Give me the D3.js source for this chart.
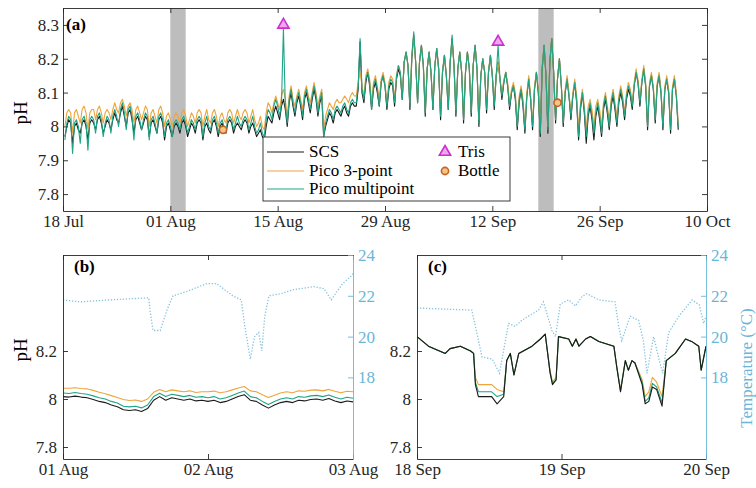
<!DOCTYPE html>
<html>
<head>
<meta charset="utf-8">
<script src="https://cdn.jsdelivr.net/npm/d3@7"></script>
<style>
  body { margin: 0; background: #fff; }
  svg { display: block; }
  text { font-family: "Liberation Serif", "Times New Roman", serif; }
</style>
</head>
<body>
<svg id="chart" width="756" height="488"></svg>
<script>
// ---------- Panel (a): full deployment, 6-hourly samples from 18 Jul 06:00 ----------
const seriesStartA = new Date(2019, 6, 18, 6);
const phSCS = [
  7.97,8.00,8.02,8.01, 7.95,8.00,8.01,7.99, 7.98,8.01,8.02,8.00, 7.96,8.01,8.02,8.01, 7.99,8.02,8.03,8.01, 7.98,8.00,8.02,8.01, 7.99,8.02,8.04,8.02,
  8.01,8.04,8.06,8.03, 8.00,8.04,8.05,8.02, 7.98,8.02,8.03,8.01, 7.99,8.01,8.03,8.02, 7.97,8.01,8.02,8.00, 7.98,8.02,8.03,8.01, 7.96,8.00,8.01,7.99,
  7.97,8.00,8.01,8.00, 7.98,8.01,8.02,8.00, 7.97,7.99,8.01,8.00, 7.98,8.01,8.02,8.01, 7.96,8.00,8.01,7.99, 7.98,8.01,8.02,8.00, 7.97,8.00,8.01,7.99,
  7.98,8.01,8.02,8.01, 7.98,8.00,8.01,8.00, 7.99,8.01,8.02,8.01, 7.98,8.00,8.01,7.99, 7.97,7.98,7.99,7.97, 7.96,8.00,8.03,8.02, 8.01,8.04,8.06,8.04,
  8.02,8.06,8.08,8.05, 8.00,8.07,8.10,8.06, 8.03,8.07,8.09,8.06, 8.02,8.08,8.10,8.07, 8.04,8.08,8.11,8.08, 8.03,8.07,8.09,7.97, 8.00,8.02,8.04,8.03,
  8.01,8.04,8.05,8.04, 8.03,8.05,8.06,8.04, 8.03,8.06,8.07,8.06, 8.06,8.11,8.25,8.10, 8.07,8.13,8.16,8.12, 8.05,8.11,8.13,8.10, 8.06,8.13,8.15,8.12,
  8.05,8.11,8.13,8.12, 8.06,8.14,8.17,8.15, 8.08,8.19,8.22,8.18, 8.05,8.20,8.27,8.19, 8.07,8.19,8.24,8.18, 8.03,8.17,8.22,8.16, 8.05,8.18,8.23,8.17,
  8.02,8.16,8.21,8.15, 8.05,8.19,8.26,8.18, 8.03,8.17,8.22,8.16, 8.01,8.16,8.22,8.17, 8.03,8.18,8.24,8.17, 8.00,8.15,8.20,8.16, 8.04,8.16,8.21,8.15,
  8.05,8.15,8.19,8.14, 8.08,8.13,8.16,8.12, 8.05,8.10,8.12,8.08, 7.99,8.07,8.11,8.06, 7.98,8.09,8.14,8.08, 7.99,8.11,8.16,8.10, 7.97,8.17,8.24,8.15,
  7.98,8.19,8.26,8.16, 8.01,8.14,8.20,8.12, 8.00,8.10,8.14,8.09, 8.02,8.09,8.13,8.07, 7.96,8.05,8.10,8.04, 7.95,8.03,8.06,8.02, 7.96,8.03,8.06,8.02,
  7.97,8.05,8.08,8.04, 7.99,8.06,8.09,8.05, 8.00,8.07,8.10,8.07, 8.02,8.08,8.11,8.09, 8.05,8.12,8.16,8.13, 8.06,8.13,8.17,8.12, 7.99,8.12,8.15,8.11,
  8.01,8.12,8.15,8.10, 7.99,8.11,8.14,8.10, 7.98,8.11,8.14,8.09, 7.99
];
const phPico3 = [
  8.00,8.04,8.05,8.04, 7.98,8.04,8.05,8.03, 8.01,8.05,8.06,8.04, 7.99,8.04,8.05,8.05, 8.02,8.05,8.06,8.04, 8.01,8.04,8.05,8.04, 8.02,8.05,8.07,8.05,
  8.04,8.07,8.08,8.06, 8.03,8.06,8.07,8.05, 8.01,8.05,8.06,8.04, 8.02,8.04,8.06,8.05, 8.00,8.04,8.05,8.03, 8.01,8.05,8.06,8.04, 8.00,8.03,8.04,8.02,
  8.00,8.03,8.04,8.03, 8.01,8.04,8.05,8.03, 8.00,8.02,8.04,8.03, 8.01,8.04,8.05,8.04, 8.00,8.03,8.05,8.02, 8.01,8.04,8.05,8.03, 8.00,8.03,8.04,8.02,
  8.01,8.04,8.05,8.04, 8.01,8.03,8.05,8.03, 8.02,8.04,8.05,8.04, 8.01,8.03,8.05,8.02, 8.00,8.01,8.03,8.00, 7.99,8.04,8.07,8.06, 8.04,8.07,8.09,8.07,
  8.05,8.09,8.11,8.08, 8.03,8.09,8.12,8.08, 8.06,8.09,8.11,8.08, 8.05,8.10,8.12,8.09, 8.07,8.10,8.13,8.10, 8.06,8.09,8.11,7.99, 8.03,8.05,8.07,8.06,
  8.05,8.07,8.08,8.07, 8.07,8.08,8.09,8.08, 8.07,8.09,8.10,8.09, 8.09,8.13,8.16,8.12, 8.09,8.15,8.17,8.14, 8.07,8.13,8.15,8.12, 8.08,8.14,8.16,8.13,
  8.07,8.13,8.15,8.14, 8.08,8.15,8.18,8.16, 8.09,8.19,8.22,8.18, 8.07,8.21,8.27,8.19, 8.08,8.19,8.24,8.18, 8.05,8.17,8.22,8.16, 8.06,8.18,8.23,8.17,
  8.04,8.16,8.21,8.15, 8.06,8.19,8.26,8.18, 8.05,8.17,8.22,8.16, 8.03,8.16,8.22,8.17, 8.05,8.18,8.24,8.17, 8.02,8.15,8.20,8.16, 8.06,8.16,8.21,8.15,
  8.07,8.15,8.19,8.14, 8.10,8.14,8.16,8.13, 8.07,8.11,8.13,8.10, 8.01,8.09,8.12,8.08, 8.00,8.10,8.15,8.09, 8.01,8.12,8.16,8.11, 7.99,8.17,8.24,8.15,
  8.00,8.19,8.26,8.16, 8.03,8.14,8.20,8.12, 8.02,8.11,8.15,8.10, 8.04,8.10,8.14,8.09, 7.99,8.07,8.11,8.06, 7.99,8.06,8.08,8.05, 8.00,8.06,8.08,8.05,
  8.00,8.07,8.10,8.06, 8.02,8.08,8.11,8.07, 8.03,8.09,8.12,8.09, 8.04,8.10,8.13,8.11, 8.07,8.13,8.17,8.14, 8.08,8.14,8.18,8.13, 8.01,8.13,8.16,8.12,
  8.03,8.13,8.16,8.11, 8.01,8.12,8.15,8.11, 8.00,8.12,8.15,8.10, 8.01
];
const phPicoMulti = [
  7.96,8.01,8.03,8.02, 7.92,8.01,8.02,8.00, 7.95,8.02,8.03,8.01, 7.93,8.02,8.03,8.02, 7.98,8.03,8.04,8.02, 7.97,8.01,8.03,8.02, 7.98,8.03,8.05,8.03,
  8.00,8.05,8.07,8.04, 7.99,8.05,8.06,8.03, 7.96,8.03,8.04,8.02, 7.99,8.02,8.04,8.03, 7.96,8.02,8.03,8.01, 7.98,8.03,8.04,8.02, 7.97,8.01,8.02,8.00,
  7.97,8.01,8.02,8.01, 7.99,8.02,8.03,8.01, 7.98,8.00,8.02,8.01, 7.99,8.02,8.03,8.02, 7.97,8.01,8.03,8.00, 7.99,8.02,8.03,8.01, 7.98,8.01,8.02,8.00,
  7.99,8.02,8.03,8.02, 7.99,8.01,8.03,8.01, 8.00,8.02,8.03,8.02, 7.99,8.01,8.03,8.00, 7.98,7.99,8.01,7.98, 7.97,8.02,8.05,8.04, 8.02,8.06,8.08,8.06,
  8.03,8.07,8.29,8.06, 8.01,8.08,8.11,8.07, 8.04,8.08,8.10,8.07, 8.03,8.09,8.11,8.08, 8.05,8.09,8.12,8.09, 8.04,8.08,8.10,7.97, 8.01,8.03,8.05,8.04,
  8.02,8.05,8.06,8.05, 8.04,8.06,8.07,8.05, 8.04,8.07,8.08,8.07, 8.07,8.12,8.26,8.11, 8.08,8.14,8.16,8.13, 8.05,8.12,8.14,8.11, 8.06,8.13,8.15,8.12,
  8.06,8.12,8.14,8.13, 8.07,8.15,8.18,8.16, 8.08,8.19,8.22,8.18, 8.06,8.21,8.28,8.19, 8.07,8.19,8.24,8.18, 8.04,8.17,8.22,8.16, 8.05,8.18,8.23,8.17,
  8.03,8.16,8.21,8.15, 8.05,8.19,8.27,8.18, 8.04,8.17,8.22,8.16, 8.02,8.16,8.22,8.17, 8.04,8.18,8.24,8.17, 8.01,8.15,8.20,8.16, 8.05,8.16,8.21,8.15,
  8.06,8.15,8.24,8.14, 8.09,8.13,8.16,8.12, 8.06,8.10,8.12,8.09, 8.00,8.08,8.11,8.07, 7.99,8.09,8.14,8.08, 8.00,8.11,8.16,8.10, 7.98,8.17,8.24,8.15,
  7.99,8.19,8.26,8.16, 8.02,8.14,8.20,8.12, 8.01,8.10,8.14,8.09, 8.03,8.09,8.13,8.08, 7.97,8.06,8.10,8.05, 7.97,8.04,8.07,8.03, 7.98,8.04,8.07,8.03,
  7.98,8.06,8.09,8.05, 8.00,8.07,8.10,8.06, 8.01,8.08,8.11,8.08, 8.03,8.09,8.12,8.10, 8.06,8.12,8.16,8.13, 8.07,8.13,8.17,8.12, 8.00,8.12,8.15,8.11,
  8.02,8.12,8.15,8.10, 8.00,8.11,8.14,8.10, 7.99,8.11,8.14,8.09, 8.00
];
const trisDates = [new Date(2019, 7, 15, 18), new Date(2019, 8, 12, 18)];
const trisPH = [8.30, 8.25];
const bottleDates = [new Date(2019, 7, 7, 21), new Date(2019, 8, 20, 12)];
const bottlePH = [7.99, 8.07];
const shadedPeriods = [[new Date(2019, 7, 1), new Date(2019, 7, 3)], [new Date(2019, 8, 18), new Date(2019, 8, 20)]];
const dateTicksA = [new Date(2019,6,18), new Date(2019,7,1), new Date(2019,7,15), new Date(2019,7,29),
                    new Date(2019,8,12), new Date(2019,8,26), new Date(2019,9,10)];
const phTicksA = [7.8, 7.9, 8, 8.1, 8.2, 8.3];

// ---------- Panel (b): 01–03 Aug, hourly pH, temperature at irregular hours ----------
const hoursB = d3.range(0, 49, 1);
const phSCS_B   = [8.010,8.008,8.012,8.008,8.005,7.998,7.990,7.985,7.975,7.968,7.955,7.952,7.955,7.948,7.960,7.995,8.010,
                   7.995,8.005,8.000,7.995,8.000,7.992,7.995,7.990,7.995,7.985,7.990,8.000,8.010,8.018,7.995,7.990,
                   7.975,7.962,7.975,7.985,7.990,7.985,7.995,7.992,7.998,8.000,7.995,8.002,7.992,7.985,7.992,7.988];
const phPico3_B = [8.045,8.045,8.047,8.044,8.042,8.036,8.028,8.022,8.014,8.006,7.998,7.994,7.996,7.990,8.000,8.028,8.040,
                   8.030,8.038,8.034,8.030,8.034,8.027,8.030,8.030,8.033,8.026,8.030,8.038,8.046,8.052,8.034,8.030,
                   8.018,8.006,8.016,8.025,8.030,8.026,8.034,8.032,8.037,8.038,8.034,8.040,8.032,8.026,8.032,8.030];
const phMulti_B = [8.025,8.023,8.027,8.023,8.020,8.013,8.005,8.000,7.990,7.983,7.970,7.967,7.970,7.963,7.975,8.010,8.024,
                   8.010,8.020,8.015,8.010,8.015,8.007,8.010,8.005,8.010,8.000,8.005,8.015,8.025,8.033,8.010,8.005,
                   7.990,7.977,7.990,8.000,8.005,8.000,8.010,8.007,8.013,8.015,8.010,8.017,8.007,8.000,8.007,8.003];
const tempHoursB = [0,2.8,7.7,14.2,14.4,14.9,16.1,17.2,18.2,20.4,23.8,25.4,28.1,29.5,30.1,31.0,31.7,
                    32.4,32.9,33.4,34.1,36.0,38.2,41.5,43.2,44.4,45.1,46.3,47.8,48];
const tempB = [21.8,21.7,21.8,21.9,21.3,20.3,20.3,21.3,22.0,22.2,22.6,22.6,22.0,21.8,20.5,18.9,20.0,
               20.2,19.3,21.0,22.0,22.1,22.3,22.45,22.35,21.8,22.1,22.6,23.0,23.1];

// ---------- Panel (c): 18–20 Sep ----------
const hoursC = [0,1.9,4.7,5.5,7.2,8.9,9.4,9.7,10.2,12.4,13.3,14.4,14.9,15.5,16.1,16.9,19.1,20.5,21.3,22.1,
                22.5,23.1,23.5,25.2,25.8,26.4,26.9,28.0,28.8,30.2,32.7,33.2,33.8,34.6,35.1,35.7,36.2,37.4,37.9,38.5,
                39.1,39.8,40.7,41.4,42.9,44.6,45.6,46.8,47.2,48];
const phSCS_C   = [8.26,8.22,8.19,8.21,8.22,8.20,8.19,8.06,8.01,8.01,7.98,8.01,8.16,8.19,8.10,8.19,8.22,8.25,8.27,8.11,
                   8.06,8.08,8.26,8.25,8.22,8.25,8.22,8.25,8.26,8.24,8.22,8.13,8.03,8.16,8.12,8.16,8.15,8.06,7.98,7.99,
                   8.05,8.04,7.97,8.16,8.19,8.25,8.24,8.22,8.12,8.22];
const phPico3_C = [8.26,8.22,8.19,8.21,8.22,8.20,8.19,8.09,8.06,8.06,8.04,8.03,8.16,8.19,8.10,8.19,8.22,8.25,8.27,8.12,
                   8.07,8.09,8.26,8.25,8.22,8.25,8.22,8.25,8.26,8.24,8.22,8.13,8.04,8.16,8.12,8.16,8.15,8.08,8.01,8.03,
                   8.09,8.07,8.01,8.16,8.19,8.25,8.24,8.22,8.12,8.22];
const phMulti_C = [8.26,8.22,8.19,8.21,8.22,8.20,8.19,8.07,8.03,8.03,8.01,8.02,8.16,8.19,8.10,8.19,8.22,8.25,8.27,8.11,
                   8.065,8.08,8.26,8.25,8.22,8.25,8.22,8.25,8.26,8.24,8.22,8.13,8.035,8.16,8.12,8.16,8.15,8.07,7.99,8.005,
                   8.065,8.05,7.985,8.16,8.19,8.25,8.24,8.22,8.12,8.22];
const tempHoursC = [0,9.1,9.7,10.8,12.5,13.7,14.1,15.2,16.3,17.4,20.2,21.0,22.4,23.0,23.8,25.2,26.3,27.4,28.2,30.2,
                    32.9,33.5,34.0,35.4,36.8,37.6,38.2,39.3,40.1,40.8,41.8,43.5,45.7,46.9,47.6,48];
const tempC = [21.4,21.3,20.5,19.0,18.9,18.2,18.85,20.65,20.5,20.8,21.3,21.7,20.3,20.0,21.6,21.8,21.5,21.96,22.1,21.8,
               21.7,20.5,19.8,21.0,20.8,19.8,18.2,20.0,19.0,18.2,20.2,21.0,21.8,21.55,20.65,21.0];

const phTicksBC = [7.8, 8, 8.2];
const tempTicks = [18, 20, 22, 24];

const SERIF = '"Liberation Serif", "Times New Roman", serif';
const FS = 17;
const COL = { scs: "#1b1b1b", pico3: "#efa43c", multi: "#1fa585", temp: "#86c3dc",
              tempAxis: "#6ab6d8", axis: "#262626", shade: "#bdbdbd", tris: "#cc2fcc", bottle: "#c8641e" };
const phFmt = d => (Math.abs(d - 8) < 1e-9 ? "8" : d3.format(".1f")(d));

const svg = d3.select("#chart");
svg.append("rect").attr("width", 756).attr("height", 488).attr("fill", "#fff");

function styleAxis(sel, color) {
  sel.attr("font-family", SERIF).attr("font-size", FS);
  sel.selectAll("path, line").attr("stroke", color).attr("stroke-width", 0.9);
  sel.selectAll("text").attr("fill", color).style("font-family", SERIF).style("font-size", FS + "px");
}
function label(parent, x, y, txt, extra = {}) {
  const t = parent.append("text").attr("x", x).attr("y", y)
    .style("font-family", SERIF).style("font-size", (extra.size || FS) + "px").text(txt);
  if (extra.bold) t.style("font-weight", "bold");
  if (extra.fill) t.attr("fill", extra.fill);
  if (extra.transform) t.attr("transform", extra.transform).attr("text-anchor", "middle");
  return t;
}

// ================= Panel (a) =================
{
  const L = 63, R = 707, T = 8, B = 211;
  const x = d3.scaleTime().domain([dateTicksA[0], dateTicksA[dateTicksA.length - 1]]).range([L, R]);
  const y = d3.scaleLinear().domain([7.75, 8.35]).range([B, T]);
  const times = phSCS.map((_, i) => d3.timeHour.offset(seriesStartA, 6 * i));

  svg.append("clipPath").attr("id", "clipA").append("rect")
    .attr("x", L).attr("y", T).attr("width", R - L).attr("height", B - T);
  const plot = svg.append("g").attr("clip-path", "url(#clipA)");

  plot.selectAll("rect.shade").data(shadedPeriods).join("rect")
    .attr("x", d => x(d[0])).attr("width", d => x(d[1]) - x(d[0]))
    .attr("y", T).attr("height", B - T).attr("fill", COL.shade);

  const line = d3.line().x((d, i) => x(times[i])).y(d => y(d));
  [[phSCS, COL.scs], [phPico3, COL.pico3], [phPicoMulti, COL.multi]].forEach(([s, c]) => {
    plot.append("path").datum(s).attr("d", line).attr("fill", "none")
      .attr("stroke", c).attr("stroke-width", 1.1).attr("stroke-linejoin", "round");
  });

  svg.selectAll("path.tris").data(trisDates).join("path")
    .attr("transform", (d, i) => `translate(${x(d)},${y(trisPH[i])})`)
    .attr("d", d3.symbol(d3.symbolTriangle).size(55))
    .attr("fill", "#eea6ee").attr("stroke", COL.tris).attr("stroke-width", 1.6);
  svg.selectAll("circle.bottle").data(bottleDates).join("circle")
    .attr("cx", d => x(d)).attr("cy", (d, i) => y(bottlePH[i])).attr("r", 3.6)
    .attr("fill", "#f3c48e").attr("stroke", COL.bottle).attr("stroke-width", 1.6);

  const fmt = d3.timeFormat("%d %b");
  svg.append("g").attr("transform", `translate(0,${B})`)
    .call(d3.axisBottom(x).tickValues(dateTicksA).tickFormat(fmt).tickSizeInner(-5).tickSizeOuter(0).tickPadding(4))
    .call(s => styleAxis(s, COL.axis));
  svg.append("g").attr("transform", `translate(0,${T})`)
    .call(d3.axisTop(x).tickValues(dateTicksA).tickFormat("").tickSizeInner(-5).tickSizeOuter(0))
    .call(s => styleAxis(s, COL.axis));
  svg.append("g").attr("transform", `translate(${L},0)`)
    .call(d3.axisLeft(y).tickValues(phTicksA).tickFormat(phFmt).tickSizeInner(-5).tickSizeOuter(0).tickPadding(4))
    .call(s => styleAxis(s, COL.axis));
  svg.append("g").attr("transform", `translate(${R},0)`)
    .call(d3.axisRight(y).tickValues(phTicksA).tickFormat("").tickSizeInner(-5).tickSizeOuter(0))
    .call(s => styleAxis(s, COL.axis));

  label(svg, 66, 30, "(a)", { bold: true });
  label(svg, 0, 0, "pH", { size: 19, transform: "translate(27,113) rotate(-90)" });

  // legend
  const lg = svg.append("g");
  lg.append("rect").attr("x", 263).attr("y", 137).attr("width", 247).attr("height", 64)
    .attr("fill", "#fff").attr("stroke", COL.axis).attr("stroke-width", 0.9);
  const entries = [["SCS", COL.scs, 152], ["Pico 3-point", COL.pico3, 171], ["Pico multipoint", COL.multi, 189]];
  entries.forEach(([name, c, yy]) => {
    lg.append("line").attr("x1", 267).attr("x2", 304).attr("y1", yy).attr("y2", yy)
      .attr("stroke", c).attr("stroke-width", 1.2);
    label(lg, 309, yy + 5, name);
  });
  lg.append("path").attr("transform", "translate(445,152)")
    .attr("d", d3.symbol(d3.symbolTriangle).size(55))
    .attr("fill", "#eea6ee").attr("stroke", COL.tris).attr("stroke-width", 1.6);
  label(lg, 458, 157, "Tris");
  lg.append("circle").attr("cx", 445).attr("cy", 171).attr("r", 3.6)
    .attr("fill", "#f3c48e").attr("stroke", COL.bottle).attr("stroke-width", 1.6);
  label(lg, 458, 176, "Bottle");
}

// ================= Panels (b) and (c) =================
function detailPanel(opt) {
  const { L, R, id, start, tag, hours, scs, pico3, multi, tHours, temp, showPH, showTempLabel, dateLabels } = opt;
  const T = 255, B = 459;
  const x = d3.scaleTime().domain([start, d3.timeDay.offset(start, 2)]).range([L, R]);
  const y = d3.scaleLinear().domain([7.75, 8.6]).range([B, T]);
  const yT = d3.scaleLinear().domain([14, 24]).range([B, T]);
  const at = h => d3.timeMinute.offset(start, Math.round(h * 60));

  svg.append("clipPath").attr("id", id).append("rect")
    .attr("x", L).attr("y", T).attr("width", R - L).attr("height", B - T);
  const plot = svg.append("g").attr("clip-path", `url(#${id})`);

  plot.append("path").datum(temp)
    .attr("d", d3.line().x((d, i) => x(at(tHours[i]))).y(d => yT(d)))
    .attr("fill", "none").attr("stroke", COL.temp).attr("stroke-width", 1.3)
    .attr("stroke-dasharray", "1.3,1.7");

  const line = d3.line().x((d, i) => x(at(hours[i]))).y(d => y(d));
  [[pico3, COL.pico3], [multi, COL.multi], [scs, COL.scs]].forEach(([s, c]) => {
    plot.append("path").datum(s).attr("d", line).attr("fill", "none")
      .attr("stroke", c).attr("stroke-width", 1.1).attr("stroke-linejoin", "round");
  });

  const ticks = [start, d3.timeDay.offset(start, 1), d3.timeDay.offset(start, 2)];
  svg.append("g").attr("transform", `translate(0,${B})`)
    .call(d3.axisBottom(x).tickValues(ticks).tickFormat((d, i) => dateLabels[i]).tickSizeInner(-5).tickSizeOuter(0).tickPadding(4))
    .call(s => styleAxis(s, COL.axis));
  svg.append("g").attr("transform", `translate(0,${T})`)
    .call(d3.axisTop(x).tickValues(ticks).tickFormat("").tickSizeInner(-5).tickSizeOuter(0))
    .call(s => styleAxis(s, COL.axis));
  svg.append("g").attr("transform", `translate(${L},0)`)
    .call(d3.axisLeft(y).tickValues(phTicksBC).tickFormat(phFmt).tickSizeInner(-5).tickSizeOuter(0).tickPadding(6))
    .call(s => styleAxis(s, COL.axis));
  svg.append("g").attr("transform", `translate(${R},0)`)
    .call(d3.axisRight(yT).tickValues(tempTicks).tickFormat(d3.format("d")).tickSizeInner(-5).tickSizeOuter(0).tickPadding(5))
    .call(s => styleAxis(s, COL.tempAxis));

  label(svg, L + 11, 272, tag, { bold: true });
  if (showPH) label(svg, 0, 0, "pH", { size: 19, transform: "translate(27,350) rotate(-90)" });
  if (showTempLabel) {
    label(svg, 0, 0, "Temperature (°C)", { size: 17, fill: COL.tempAxis, transform: "translate(752,368) rotate(-90)" });
  }
}

detailPanel({ L: 63, R: 353, id: "clipB", start: new Date(2019, 7, 1), tag: "(b)",
  hours: hoursB, scs: phSCS_B, pico3: phPico3_B, multi: phMulti_B, tHours: tempHoursB, temp: tempB,
  showPH: true, showTempLabel: false, dateLabels: ["01 Aug", "02 Aug", "03 Aug"] });
detailPanel({ L: 417, R: 706, id: "clipC", start: new Date(2019, 8, 18), tag: "(c)",
  hours: hoursC, scs: phSCS_C, pico3: phPico3_C, multi: phMulti_C, tHours: tempHoursC, temp: tempC,
  showPH: false, showTempLabel: true, dateLabels: ["18 Sep", "19 Sep", "20 Sep"] });
</script>
</body>
</html>
